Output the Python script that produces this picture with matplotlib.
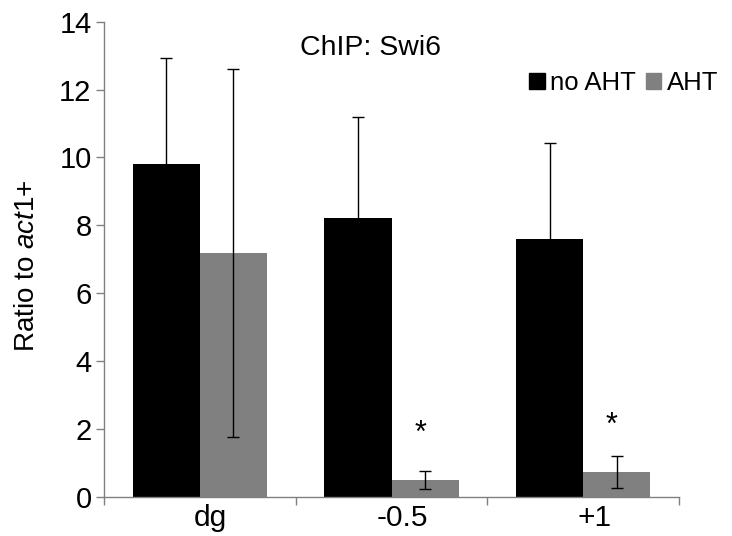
import matplotlib.pyplot as plt
import matplotlib.transforms as mtransforms
import numpy as np
from matplotlib.patches import Rectangle

plt.rcParams['font.family'] = ['Liberation Sans', 'DejaVu Sans']
plt.rcParams['mathtext.fontset'] = 'custom'
plt.rcParams['mathtext.rm'] = 'Liberation Sans'
plt.rcParams['mathtext.it'] = 'Liberation Sans:italic'

# data ----------------------------
categories = ['dg', '-0.5', '+1']
no_aht = [9.80, 8.22, 7.60]
no_aht_err = [3.12, 2.97, 2.83]
aht = [7.19, 0.50, 0.74]
aht_err = [5.43, 0.27, 0.47]
star_y = [None, 1.85, 2.1]
# ---------------------------------

fig = plt.figure(figsize=(7.32, 5.36), dpi=100)
ax = fig.add_axes([0.1421, 0.0728, 0.9276 - 0.1421, 0.9595 - 0.0728])

x = np.arange(len(categories))
w = 0.35
ax.bar(x - w / 2, no_aht, w, color='black', zorder=2)
ax.bar(x + w / 2, aht, w, color='#808080', zorder=2)
ax.errorbar(x - w / 2, no_aht, yerr=no_aht_err, fmt='none', ecolor='black',
            elinewidth=1, capsize=4.5, capthick=1, zorder=3)
ax.errorbar(x + w / 2, aht, yerr=aht_err, fmt='none', ecolor='black',
            elinewidth=1, capsize=4.5, capthick=1, zorder=3)

star_shift = mtransforms.ScaledTranslation(-5 / 100, 0, fig.dpi_scale_trans)
for i, s in enumerate(star_y):
    if s is not None:
        ax.text(x[i] + w / 2, s, '*', ha='center', va='center', fontsize=22,
                transform=ax.transData + star_shift)

ax.set_xlim(-0.5, len(categories) - 0.5)
ax.set_ylim(0, 14)
ax.set_yticks(np.arange(0, 15, 2))
ax.set_xticks(x)
ax.set_xticklabels(categories, fontsize=21.5)
ax.set_xticks(np.arange(-0.5, len(categories), 1), minor=True)
ax.tick_params(axis='x', which='major', length=0, pad=5)
ax.tick_params(axis='x', which='minor', length=6, width=1, color='#808080')
ax.tick_params(axis='y', labelsize=21, length=6, width=1, color='#808080', pad=3)

label_shift = mtransforms.ScaledTranslation(11 / 100, 0, fig.dpi_scale_trans)
for lab in ax.get_xticklabels():
    lab.set_transform(lab.get_transform() + label_shift)

for side in ['top', 'right']:
    ax.spines[side].set_visible(False)
for side in ['left', 'bottom']:
    ax.spines[side].set_color('#808080')
    ax.spines[side].set_linewidth(1)

ax.set_ylabel(r'Ratio to $\mathit{act1}$+', fontsize=20)
ax.yaxis.set_label_coords(-0.112, 0.486)
ax.text(0.463, 0.945, 'ChIP: Swi6', transform=ax.transAxes, ha='center',
        va='center', fontsize=20.5)

handles = [Rectangle((0, 0), 1, 1, color='black'),
           Rectangle((0, 0), 1, 1, color='#808080')]
ax.legend(handles, ['no AHT', 'AHT'], loc='center right', ncol=2,
          bbox_to_anchor=(1.068, 0.871), frameon=False, fontsize=18.5,
          handlelength=0.6, handleheight=0.6, handletextpad=0.2,
          columnspacing=0.4, borderaxespad=0, borderpad=0)

fig.savefig('out.png', dpi=100)
